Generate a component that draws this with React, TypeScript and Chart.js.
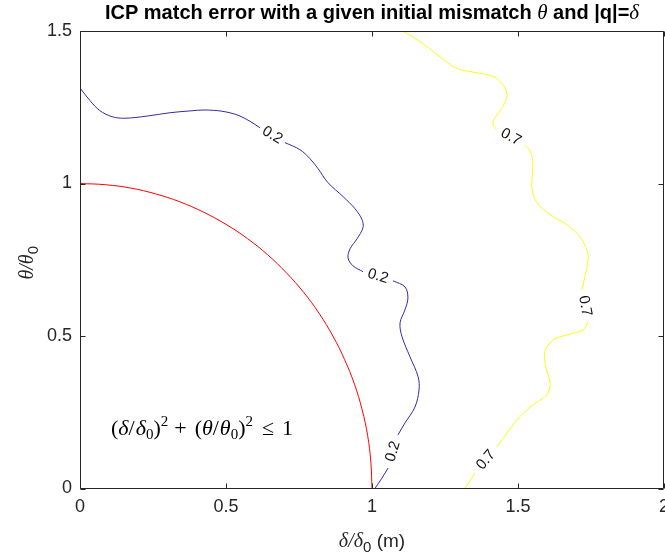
import React, { useEffect, useRef } from 'react';
import { Chart, registerables } from 'chart.js';

Chart.register(...registerables);

// ---- Tick values / labels ----
const xTickValues = [0, 0.5, 1, 1.5, 2];
const xTickLabels = ['0', '0.5', '1', '1.5', '2'];
const yTickValues = [0, 0.5, 1, 1.5];
const yTickLabels = ['0', '0.5', '1', '1.5'];

// ---- Contour level 0.2 (null = gap where a label sits) ----
const contour02Level = '0.2';
const contour02X = [0, 0.034, 0.068, 0.11, 0.154, 0.229, 0.308, 0.377, 0.428, 0.486, 0.541, 0.582, 0.616, null,
  0.702, 0.753, 0.788, 0.815, 0.849, 0.901, 0.942, 0.966, 0.969, 0.949, 0.925, 0.918, 0.935, 0.969, null,
  1.072, 1.113, 1.123, 1.113, 1.096, 1.103, 1.13, 1.158, 1.161, 1.147, 1.113, 1.089, null,
  1.055, 1.034, 1.01];
const contour02Y = [1.313, 1.272, 1.239, 1.219, 1.214, 1.221, 1.232, 1.238, 1.241, 1.237, 1.224, 1.204, 1.183, null,
  1.134, 1.111, 1.081, 1.049, 1.003, 0.957, 0.917, 0.881, 0.855, 0.819, 0.786, 0.756, 0.73, 0.711, null,
  0.681, 0.661, 0.625, 0.586, 0.543, 0.497, 0.432, 0.366, 0.323, 0.267, 0.215, 0.176, null,
  0.067, 0.034, 0];

// ---- Contour level 0.7 ----
const contour07Level = '0.7';
const contour07X = [1.106, 1.164, 1.223, 1.267, 1.301, 1.36, 1.414, 1.449, 1.462, 1.449, 1.421, 1.414, 1.428, null,
  1.524, 1.543, 1.551, 1.548, 1.548, 1.565, 1.61, 1.668, 1.712, 1.736, 1.74, 1.729, 1.719, null,
  1.74, 1.723, 1.668, 1.62, 1.592, 1.596, 1.61, 1.599, 1.541, 1.497, 1.462, 1.428, null,
  1.353, 1.318];
const contour07Y = [1.5, 1.466, 1.423, 1.39, 1.374, 1.363, 1.351, 1.324, 1.291, 1.253, 1.215, 1.193, 1.177, null,
  1.127, 1.104, 1.062, 1.019, 0.98, 0.937, 0.898, 0.865, 0.825, 0.783, 0.75, 0.694, 0.651, null,
  0.546, 0.52, 0.504, 0.487, 0.448, 0.395, 0.346, 0.307, 0.267, 0.225, 0.182, 0.136, null,
  0.051, 0];

// ---- Boundary (delta/delta0)^2 + (theta/theta0)^2 = 1 ----
const boundaryX = [0, 0.087, 0.174, 0.259, 0.342, 0.423, 0.5, 0.574, 0.643, 0.707, 0.766, 0.819, 0.866, 0.906, 0.94, 0.966, 0.985, 0.996, 1];
const boundaryY = [1, 0.996, 0.985, 0.966, 0.94, 0.906, 0.866, 0.819, 0.766, 0.707, 0.643, 0.574, 0.5, 0.423, 0.342, 0.259, 0.174, 0.087, 0];

const SANS = '"Liberation Sans", Arial, Helvetica, sans-serif';
const SERIF = '"Liberation Serif", "Times New Roman", serif';
const TXT = '#262626';

type Part = { t: string; f: string; dy?: number; gap?: number };

function toPoints(xs: (number | null)[], ys: (number | null)[]) {
  let lastX = 0;
  return xs.map((x, i) => {
    if (x === null || ys[i] === null) return { x: lastX, y: null };
    lastX = x;
    return { x, y: ys[i] };
  });
}

function drawParts(ctx: CanvasRenderingContext2D, parts: Part[], x: number, y: number, align: 'left' | 'center') {
  let total = 0;
  const widths = parts.map((p) => {
    ctx.font = p.f;
    const w = ctx.measureText(p.t).width + (p.gap || 0);
    total += w;
    return w;
  });
  let cx = align === 'center' ? x - total / 2 : x;
  ctx.textAlign = 'left';
  ctx.textBaseline = 'alphabetic';
  parts.forEach((p, i) => {
    ctx.font = p.f;
    if (p.t) ctx.fillText(p.t, cx, y + (p.dy || 0));
    cx += widths[i];
  });
}

const decorPlugin = {
  id: 'decor',
  afterDatasetsDraw(chart: any) {
    const { ctx, chartArea: a, scales } = chart;
    const xs = scales.x, ys = scales.y;
    ctx.save();
    // contour labels in the gaps of each contour line
    chart.data.datasets.forEach((ds: any, di: number) => {
      if (!ds.contourLabel) return;
      const pts = chart.getDatasetMeta(di).data;
      for (let i = 1; i < pts.length - 1; i++) {
        if (!pts[i].skip) continue;
        const p0 = pts[i - 1], p1 = pts[i + 1];
        let ang = Math.atan2(p1.y - p0.y, p1.x - p0.x);
        if (ang > Math.PI / 2) ang -= Math.PI;
        if (ang < -Math.PI / 2) ang += Math.PI;
        ctx.save();
        ctx.translate((p0.x + p1.x) / 2, (p0.y + p1.y) / 2);
        ctx.rotate(ang);
        ctx.font = `15px ${SANS}`;
        ctx.fillStyle = '#141414';
        ctx.textAlign = 'center';
        ctx.textBaseline = 'middle';
        ctx.fillText(ds.contourLabel, 0, 0);
        ctx.restore();
      }
    });
    // axes box and inward ticks
    ctx.strokeStyle = TXT;
    ctx.lineWidth = 1;
    const L = Math.round(a.left) + 0.5, R = Math.round(a.right) - 0.5;
    const T = Math.round(a.top) + 0.5, B = Math.round(a.bottom) - 0.5;
    ctx.beginPath();
    ctx.rect(L, T, R - L, B - T);
    const tl = 5;
    xTickValues.forEach((v) => {
      const px = Math.round(xs.getPixelForValue(v)) + 0.5;
      ctx.moveTo(px, B); ctx.lineTo(px, B - tl);
      ctx.moveTo(px, T); ctx.lineTo(px, T + tl);
    });
    yTickValues.forEach((v) => {
      const py = Math.round(ys.getPixelForValue(v)) + 0.5;
      ctx.moveTo(L, py); ctx.lineTo(L + tl, py);
      ctx.moveTo(R, py); ctx.lineTo(R - tl, py);
    });
    ctx.stroke();
    ctx.restore();
  },
  afterDraw(chart: any) {
    const { ctx, chartArea: a } = chart;
    ctx.save();
    // title
    ctx.fillStyle = '#000';
    const tb = `bold 20px ${SANS}`;
    const ti = `italic 21px ${SERIF}`;
    drawParts(ctx, [
      { t: 'ICP match error with a given initial mismatch ', f: tb },
      { t: 'θ', f: ti },
      { t: ' and |q|=', f: tb },
      { t: 'δ', f: ti },
    ], (a.left + a.right) / 2, 19, 'center');
    // x label
    ctx.fillStyle = TXT;
    const li = `italic 20px ${SERIF}`;
    const ls = `19px ${SANS}`;
    const lsub = `15px ${SANS}`;
    drawParts(ctx, [
      { t: 'δ/δ', f: li },
      { t: '0', f: lsub, dy: 5 },
      { t: ' (m)', f: ls },
    ], (a.left + a.right) / 2, 547, 'center');
    // y label
    ctx.save();
    ctx.translate(33, (a.top + a.bottom) / 2 + 3);
    ctx.rotate(-Math.PI / 2);
    drawParts(ctx, [
      { t: 'θ/θ', f: li },
      { t: '0', f: lsub, dy: 5 },
    ], 0, 0, 'center');
    ctx.restore();
    // annotation
    ctx.fillStyle = '#000';
    const r = `22px ${SERIF}`;
    const it = `italic 22px ${SERIF}`;
    const sm = `15px ${SERIF}`;
    drawParts(ctx, [
      { t: '(', f: r }, { t: 'δ', f: it }, { t: '/', f: r, gap: 1 }, { t: 'δ', f: it }, { t: '0', f: sm, dy: 4 },
      { t: ')', f: r }, { t: '2', f: sm, dy: -9, gap: 6 }, { t: '+', f: r, gap: 8 },
      { t: '(', f: r }, { t: 'θ', f: it }, { t: '/', f: r, gap: 1 }, { t: 'θ', f: it }, { t: '0', f: sm, dy: 4 },
      { t: ')', f: r }, { t: '2', f: sm, dy: -9, gap: 9 }, { t: '≤', f: r, gap: 8 }, { t: '1', f: r },
    ], 111, 435, 'left');
    ctx.restore();
  },
};

export default function App() {
  const ref = useRef<HTMLCanvasElement | null>(null);
  useEffect(() => {
    if (!ref.current) return;
    const lineBase = { showLine: true, pointRadius: 0, pointHoverRadius: 0, borderWidth: 1, tension: 0.35, spanGaps: false, fill: false };
    const chart = new Chart(ref.current, {
      type: 'scatter',
      data: {
        datasets: [
          { ...lineBase, label: 'boundary', data: toPoints(boundaryX, boundaryY), borderColor: '#ff0000', backgroundColor: '#ff0000', tension: 0.4 },
          { ...lineBase, label: contour02Level, contourLabel: contour02Level, data: toPoints(contour02X, contour02Y), borderColor: 'rgb(62,38,168)', backgroundColor: 'rgb(62,38,168)' },
          { ...lineBase, label: contour07Level, contourLabel: contour07Level, data: toPoints(contour07X, contour07Y), borderColor: 'rgb(249,251,21)', backgroundColor: 'rgb(249,251,21)' },
        ] as any,
      },
      options: {
        responsive: false,
        animation: false,
        events: [],
        layout: { padding: { left: 0, top: 31, right: 1, bottom: 0 } },
        plugins: { legend: { display: false }, tooltip: { enabled: false }, title: { display: false } },
        scales: {
          x: {
            type: 'linear', min: 0, max: 2,
            grid: { display: false, drawTicks: false },
            border: { display: false },
            afterBuildTicks: (s: any) => { s.ticks = xTickValues.map((v) => ({ value: v })); },
            ticks: {
              callback: (_v: any, i: number) => xTickLabels[i],
              font: { size: 18, family: SANS }, color: TXT, padding: 8, maxRotation: 0, autoSkip: false,
            },
            afterFit: (s: any) => { s.height = 67.5; s.paddingLeft = 0; s.paddingRight = 0; },
          },
          y: {
            type: 'linear', min: 0, max: 1.5,
            grid: { display: false, drawTicks: false },
            border: { display: false },
            afterBuildTicks: (s: any) => { s.ticks = yTickValues.map((v) => ({ value: v })); },
            ticks: {
              callback: (_v: any, i: number) => yTickLabels[i],
              font: { size: 18, family: SANS }, color: TXT, padding: 8, autoSkip: false,
            },
            afterFit: (s: any) => { s.width = 80; s.paddingTop = 0; s.paddingBottom = 0; },
          },
        },
      } as any,
      plugins: [decorPlugin],
    });
    return () => chart.destroy();
  }, []);
  return (
    <div style={{ position: 'absolute', left: 0, top: 0, width: 665, height: 556, background: '#fff' }}>
      <canvas ref={ref} width={665} height={556} style={{ display: 'block', width: 665, height: 556 }} />
    </div>
  );
}
